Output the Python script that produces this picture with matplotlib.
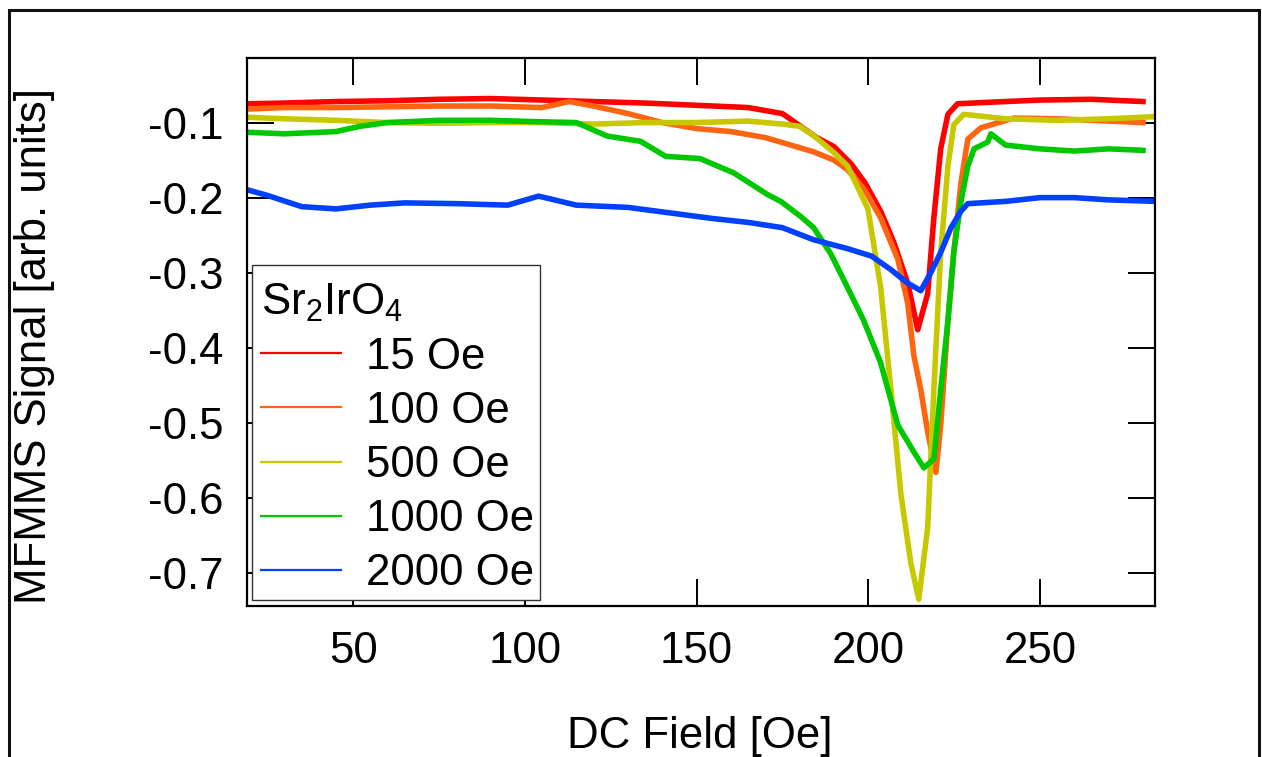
import matplotlib
matplotlib.use("Agg")
import matplotlib.pyplot as plt
from matplotlib.patches import Rectangle

plt.rcParams['font.family'] = ['Liberation Sans', 'DejaVu Sans']
plt.rcParams['mathtext.fontset'] = 'custom'
plt.rcParams['mathtext.rm'] = 'Liberation Sans'
plt.rcParams['mathtext.it'] = 'Liberation Sans:italic'
plt.rcParams['mathtext.default'] = 'regular'

# ---- MFMMS signal vs DC field for each AC drive amplitude ----
field_15 = [19.5, 30, 45, 60, 75, 90, 105, 120, 135, 150, 165, 175, 185, 190, 195,
            199, 203.6, 207.4, 211.5, 214.4, 217.3, 219.1, 221.1, 223.2, 226, 235,
            250, 265, 280]
signal_15 = [-0.075, -0.074, -0.072, -0.071, -0.069, -0.068, -0.070, -0.072, -0.074,
             -0.077, -0.080, -0.088, -0.120, -0.132, -0.155, -0.180, -0.218, -0.259,
             -0.314, -0.376, -0.328, -0.227, -0.135, -0.089, -0.075, -0.073, -0.070,
             -0.069, -0.072]

field_100 = [19.5, 30, 45, 60, 75, 90, 105, 113, 120, 130, 140, 150, 160, 170, 174.5,
             184.1, 190, 194, 199, 203.6, 208.6, 211.5, 213.3, 215.3, 217.3, 219.7,
             221.1, 223.2, 224.9, 227, 229, 232.8, 242.4, 255, 270, 280]
signal_100 = [-0.082, -0.080, -0.080, -0.079, -0.078, -0.078, -0.080, -0.072, -0.078,
              -0.088, -0.100, -0.108, -0.112, -0.120, -0.126, -0.139, -0.150, -0.163,
              -0.190, -0.227, -0.282, -0.341, -0.411, -0.456, -0.512, -0.566, -0.503,
              -0.364, -0.273, -0.180, -0.122, -0.107, -0.094, -0.095, -0.098, -0.100]

field_500 = [19.5, 30, 45, 60, 75, 90, 105, 120, 135, 150, 165, 175, 180, 184, 190,
             194, 199.9, 203.6, 206.6, 209.5, 212.4, 214.7, 217.3, 219.1, 221.1, 223.2,
             224.9, 227.8, 240, 255, 270, 284]
signal_500 = [-0.093, -0.095, -0.097, -0.100, -0.101, -0.100, -0.100, -0.102, -0.100,
              -0.100, -0.098, -0.102, -0.105, -0.117, -0.140, -0.158, -0.215, -0.319,
              -0.456, -0.595, -0.687, -0.735, -0.640, -0.456, -0.273, -0.158, -0.103,
              -0.089, -0.095, -0.097, -0.095, -0.092]

field_1000 = [19.5, 30, 45, 52, 60, 75, 90, 105, 115, 124, 133.7, 141, 151, 160.8,
              170.7, 174.5, 180.3, 184.1, 189.1, 194, 198.7, 203.6, 208.6, 213.3, 216.2,
              219.1, 221.1, 223.2, 224.9, 227, 229, 230.8, 234.8, 235.7, 240, 250, 260,
              270, 280]
signal_1000 = [-0.113, -0.115, -0.112, -0.105, -0.100, -0.097, -0.097, -0.099, -0.100,
               -0.118, -0.125, -0.145, -0.148, -0.167, -0.196, -0.205, -0.225, -0.240,
               -0.275, -0.320, -0.364, -0.420, -0.503, -0.539, -0.560, -0.548, -0.456,
               -0.364, -0.273, -0.205, -0.158, -0.135, -0.126, -0.115, -0.130, -0.135,
               -0.138, -0.135, -0.137]

field_2000 = [19.5, 25, 35, 45, 55, 65, 80, 95, 104, 115, 130, 145, 155, 165, 175, 184,
              194, 201, 206.6, 211.5, 215.3, 218.2, 221.1, 224.1, 227, 229, 240, 250,
              260, 270, 284]
signal_2000 = [-0.190, -0.197, -0.212, -0.215, -0.210, -0.207, -0.208, -0.210, -0.198,
               -0.210, -0.213, -0.222, -0.228, -0.233, -0.240, -0.256, -0.268, -0.278,
               -0.296, -0.314, -0.324, -0.300, -0.273, -0.240, -0.218, -0.208, -0.205,
               -0.200, -0.200, -0.203, -0.205]

series = [
    (field_15, signal_15, '15 Oe', '#ff0000'),
    (field_100, signal_100, '100 Oe', '#ff6410'),
    (field_500, signal_500, '500 Oe', '#c8c800'),
    (field_1000, signal_1000, '1000 Oe', '#00c800'),
    (field_2000, signal_2000, '2000 Oe', '#0040ff'),
]

fig = plt.figure(figsize=(12.62, 7.57), dpi=100)
ax = fig.add_axes([246.7 / 1262, 151 / 757, 908.3 / 1262, 548 / 757])

for x, y, label, color in series:
    ax.plot(x, y, color=color, lw=4.0, label=label, solid_joinstyle='round')

ax.set_xlim(19, 283.5)
ax.set_ylim(-0.744, -0.014)
ax.set_xticks([50, 100, 150, 200, 250])
ax.set_yticks([-0.1, -0.2, -0.3, -0.4, -0.5, -0.6, -0.7])
ax.set_yticklabels(['-0.1', '-0.2', '-0.3', '-0.4', '-0.5', '-0.6', '-0.7'])

fs = 31.5
ax.tick_params(direction='in', length=19.5, width=1.4, top=True, right=True,
               labelsize=fs, colors='black')
ax.tick_params(axis='y', pad=17)
ax.tick_params(axis='x', pad=18)
for sp in ax.spines.values():
    sp.set_linewidth(1.6)

ax.set_xlabel('DC Field [Oe]', fontsize=fs)
ax.set_ylabel('MFMMS Signal [arb. units]', fontsize=fs)
ax.xaxis.set_label_coords(0.499, -0.2)
ax.yaxis.set_label_coords(-0.211, 0.474)

# legend box: white panel drawn separately so it can sit exactly where wanted
ax.add_patch(Rectangle((0.0058, 0.011), 0.317, 0.611, transform=ax.transAxes,
                       facecolor='white', edgecolor='#333333', lw=1.0, zorder=4.9))

leg = ax.legend(loc='upper left', bbox_to_anchor=(0.0155, 0.5925), borderaxespad=0,
                fontsize=fs, title='Sr$_2$IrO$_4$', title_fontsize=fs,
                alignment='left', frameon=False, handlelength=1.84,
                handletextpad=0.57, labelspacing=0.30, borderpad=0)
leg.set_zorder(5)
for line in leg.get_lines():
    line.set_linewidth(1.6)

# border around the whole figure
fig.patches.append(Rectangle((9 / 1262, -0.1), 1250 / 1262, 747 / 757 + 0.1,
                             transform=fig.transFigure, fill=False,
                             lw=2.2, edgecolor='#111111'))

fig.savefig('out.png', dpi=100)
